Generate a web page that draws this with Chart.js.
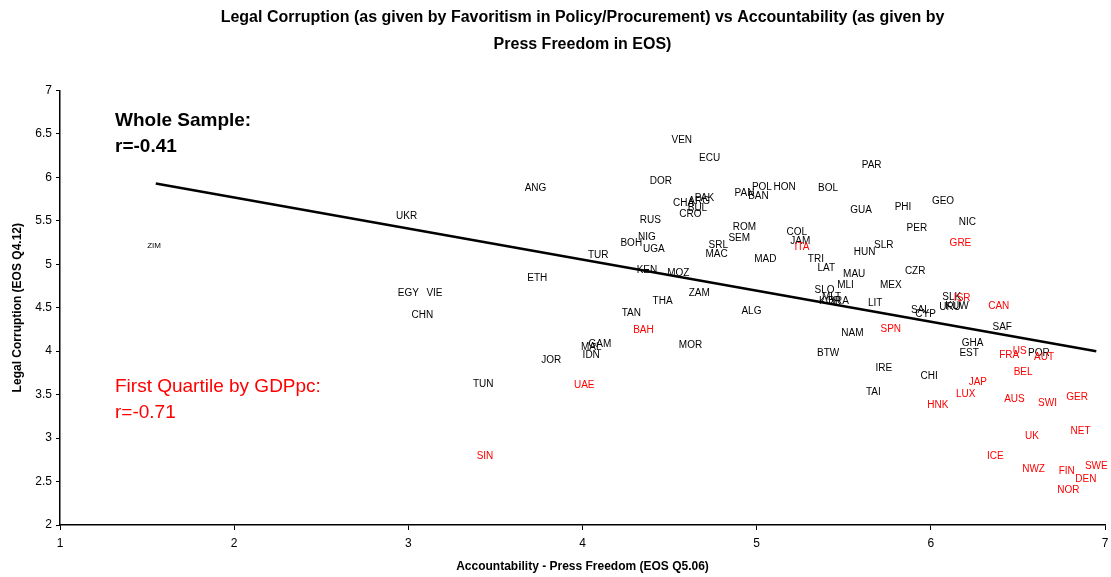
<!DOCTYPE html>
<html>
<head>
<meta charset="utf-8">
<script src="https://cdn.jsdelivr.net/npm/chart.js@4.4.0/dist/chart.umd.min.js"></script>
<style>
  html, body { margin: 0; padding: 0; background: #fff; }
  #wrap { width: 1111px; height: 577px; }
</style>
</head>
<body>
<div id="wrap"><canvas id="mycanvas" width="1111" height="577"></canvas></div>
<script>
// whole sample (black labels)
var wholeCodes = ["ZIM","UKR","ANG","EGY","VIE","CHN","ETH","TUN","JOR","MAL","GAM","IDN","TUR","BOH","NIG","UGA","RUS","DOR","VEN","ECU","CHA","PAK","ARG","BUL","CRO","PAN","POL","BAN","HON","BOL","PAR","GUA","PHI","GEO","NIC","PER","SLR","HUN","ROM","SEM","SRL","MAC","MAD","COL","JAM","TRI","LAT","MAU","MLI","MEX","CZR","KEN","MOZ","ZAM","THA","TAN","MOR","ALG","SLO","MLT","KOR","BRA","LIT","NAM","BTW","IRE","TAI","CHI","SAL","CYP","SLK","URU","KUW","SAF","GHA","EST","POR"];
var wholeX = [1.54,2.99,3.73,3.00,3.15,3.08,3.74,3.43,3.82,4.05,4.10,4.05,4.09,4.28,4.37,4.41,4.39,4.45,4.57,4.73,4.58,4.70,4.67,4.66,4.62,4.93,5.03,5.01,5.16,5.41,5.66,5.60,5.84,6.07,6.21,5.92,5.73,5.62,4.93,4.90,4.78,4.77,5.05,5.23,5.25,5.34,5.40,5.56,5.51,5.77,5.91,4.37,4.55,4.67,4.46,4.28,4.62,4.97,5.39,5.43,5.42,5.47,5.68,5.55,5.41,5.73,5.67,5.99,5.94,5.97,6.12,6.11,6.15,6.41,6.24,6.22,6.62];
var wholeY = [5.21,5.55,5.87,4.67,4.67,4.41,4.84,3.62,3.90,4.05,4.08,3.95,5.10,5.24,5.31,5.17,5.51,5.95,6.43,6.22,5.70,5.76,5.72,5.64,5.57,5.82,5.89,5.78,5.89,5.87,6.14,5.62,5.66,5.72,5.48,5.41,5.22,5.14,5.43,5.30,5.22,5.11,5.06,5.37,5.26,5.06,4.95,4.89,4.76,4.76,4.92,4.93,4.90,4.67,4.57,4.44,4.07,4.46,4.70,4.62,4.57,4.57,4.55,4.21,3.98,3.80,3.53,3.71,4.47,4.43,4.62,4.51,4.52,4.28,4.09,3.98,3.98];

// first quartile by GDPpc (red labels)
var topCodes = ["SIN","UAE","BAH","ITA","GRE","SPN","ISR","CAN","FRA","US","AUT","BEL","JAP","LUX","HNK","AUS","SWI","GER","NET","UK","ICE","NWZ","FIN","SWE","DEN","NOR"];
var topX = [3.44,4.01,4.35,5.26,6.17,5.77,6.18,6.39,6.45,6.51,6.65,6.53,6.27,6.20,6.04,6.48,6.67,6.84,6.86,6.58,6.37,6.59,6.78,6.95,6.89,6.79];
var topY = [2.79,3.61,4.24,5.20,5.24,4.25,4.61,4.52,3.95,4.00,3.93,3.76,3.64,3.51,3.38,3.45,3.40,3.47,3.08,3.02,2.79,2.64,2.62,2.68,2.53,2.40];

// fitted line, whole sample
var fitX = [1.55, 6.95];
var fitY = [5.93, 4.00];

function toPoints(xs, ys) {
	var pts = [];
	for (var i = 0; i < xs.length; i++) {
		pts.push({x: xs[i], y: ys[i]});
	}
	return pts;
}

var font = "'Liberation Sans', Arial, sans-serif";

var codeLabels = {
	id: 'codeLabels',
	afterDatasetsDraw: function(chart) {
		var ctx = chart.ctx;
		ctx.save();
		ctx.textAlign = 'center';
		ctx.textBaseline = 'middle';
		chart.data.datasets.forEach(function(ds, i) {
			if (!ds.codes) return;
			var meta = chart.getDatasetMeta(i);
			ctx.fillStyle = ds.labelColor;
			meta.data.forEach(function(el, j) {
				ctx.font = (ds.codes[j] === 'ZIM' ? '8px ' : '10px ') + font;
				ctx.fillText(ds.codes[j], el.x, el.y);
			});
		});
		ctx.restore();
	}
};

var notes = {
	id: 'notes',
	afterDraw: function(chart) {
		var ctx = chart.ctx;
		var a = chart.chartArea;
		ctx.save();
		ctx.textAlign = 'left';
		ctx.textBaseline = 'middle';
		ctx.fillStyle = '#000';
		ctx.font = 'bold 19px ' + font;
		ctx.fillText('Whole Sample:', a.left + 55, a.top + 30);
		ctx.fillText('r=-0.41', a.left + 55, a.top + 56);
		ctx.fillStyle = '#ff0000';
		ctx.font = '19px ' + font;
		ctx.fillText('First Quartile by GDPpc:', a.left + 55, a.top + 296);
		ctx.fillText('r=-0.71', a.left + 55, a.top + 322);
		ctx.restore();
	}
};

var chartdata = {
	datasets: [
		{
			type: 'line',
			label: 'Fit',
			data: toPoints(fitX, fitY),
			borderColor: '#000',
			borderWidth: 2.5,
			pointRadius: 0,
			fill: false
		},
		{
			type: 'scatter',
			label: 'Whole Sample',
			data: toPoints(wholeX, wholeY),
			codes: wholeCodes,
			labelColor: '#000',
			pointRadius: 0
		},
		{
			type: 'scatter',
			label: 'First Quartile by GDPpc',
			data: toPoints(topX, topY),
			codes: topCodes,
			labelColor: '#ff0000',
			pointRadius: 0
		}
	]
};

var options = {
	responsive: false,
	animation: false,
	layout: { padding: { left: 0, right: 0, top: 0, bottom: 0 } },
	plugins: {
		legend: { display: false },
		tooltip: { enabled: false },
		title: {
			display: true,
			fullSize: false,
			text: ['Legal Corruption (as given by Favoritism in Policy/Procurement) vs Accountability (as given by', 'Press Freedom in EOS)'],
			color: '#000',
			font: { family: font, size: 16, weight: 'bold', lineHeight: 1.7 },
			padding: { top: 4, bottom: 32 }
		}
	},
	scales: {
		x: {
			type: 'linear',
			min: 1,
			max: 7,
			ticks: { stepSize: 1, color: '#000', font: { family: font, size: 12 }, padding: 6 },
			grid: { drawOnChartArea: false, color: '#000', tickLength: 5 },
			border: { color: '#000', width: 1.5 },
			title: {
				display: true,
				text: 'Accountability - Press Freedom (EOS Q5.06)',
				color: '#000',
				font: { family: font, size: 12, weight: 'bold' },
				padding: { top: 0, bottom: 3 }
			},
			afterFit: function(scale) {
				scale.height = 52;
				scale.paddingRight = 6;
			}
		},
		y: {
			min: 2,
			max: 7,
			ticks: {
				stepSize: 0.5,
				color: '#000',
				font: { family: font, size: 12 },
				padding: 4,
				callback: function(value) { return String(value); }
			},
			grid: { drawOnChartArea: false, color: '#000', tickLength: 4 },
			border: { color: '#000', width: 1.5 },
			title: {
				display: true,
				text: 'Legal Corruption (EOS Q4.12)',
				color: '#000',
				font: { family: font, size: 12, weight: 'bold' },
				padding: { top: 10, bottom: 0 }
			},
			afterFit: function(scale) { scale.width = 60; }
		}
	}
};

var ctx = document.getElementById('mycanvas');
var scatterGraph = new Chart(ctx, {
	type: 'scatter',
	data: chartdata,
	options: options,
	plugins: [codeLabels, notes]
});
</script>
</body>
</html>
